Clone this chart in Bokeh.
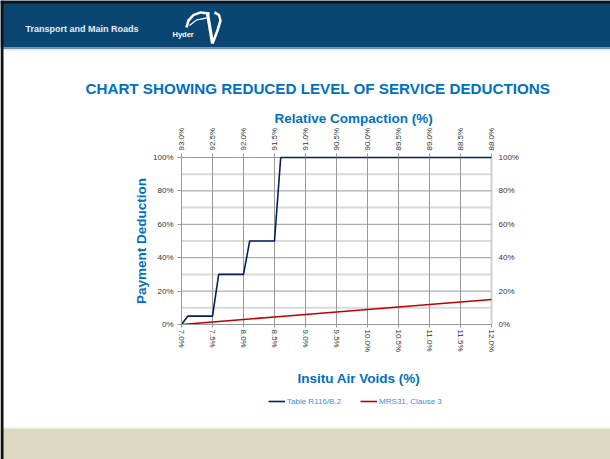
import math
from bokeh.plotting import figure
from bokeh.models import (Range1d, FixedTicker, LinearAxis, Legend, LegendItem,
                          PrintfTickFormatter, BoxAnnotation, Label, PolyAnnotation)
from bokeh.embed import file_html
from bokeh.resources import INLINE

# ---------------- data ----------------
air_voids_r116 = [7.0, 7.1, 7.5, 7.6, 8.0, 8.1, 8.5, 8.6, 12.0]
deduction_r116 = [0, 5, 5, 30, 30, 50, 50, 100, 100]

air_voids_mrs31 = [7.0, 7.5, 8.0, 8.5, 9.0, 9.5, 10.0, 10.5, 11.0, 11.5, 12.0]
deduction_mrs31 = [0.0, 1.5, 3.0, 4.5, 6.0, 7.5, 9.0, 10.5, 12.0, 13.5, 15.0]

air_void_ticks = [7.0, 7.5, 8.0, 8.5, 9.0, 9.5, 10.0, 10.5, 11.0, 11.5, 12.0]
compaction_ticks = [93.0, 92.5, 92.0, 91.5, 91.0, 90.5, 90.0, 89.5, 89.0, 88.5, 88.0]
deduction_ticks = [0, 20, 40, 60, 80, 100]
deduction_minor = [10, 30, 50, 70, 90]

series_names = ["Table R116/B.2", "MRS31, Clause 3"]
chart_title = "CHART SHOWING REDUCED LEVEL OF SERVICE DEDUCTIONS"
x_title = "Insitu Air Voids (%)"
x2_title = "Relative Compaction (%)"
y_title = "Payment Deduction"
header_text = "Transport and Main Roads"
logo_text = "Hyder"

# ---------------- layout / styles ----------------
FONT = "Liberation Sans"
NAVY = "#0B4672"
BLUE_TXT = "#0070C0"
GRID = "#999999"
W, H = 610, 459
CL, CR, CT, CB = 181, 491, 157, 324   # chart area on the canvas (px)

x0, x1 = air_void_ticks[0], air_void_ticks[-1]
y0, y1 = deduction_ticks[0], deduction_ticks[-1]
kx = (x1 - x0) / (CR - CL)
ky = (y1 - y0) / (CB - CT)
c0, c1 = compaction_ticks[0], compaction_ticks[-1]
kc = (c1 - c0) / (CR - CL)

p = figure(width=W, height=H,
           x_range=Range1d(x0 - CL * kx, x1 + (W - CR) * kx),
           y_range=Range1d(y0 - (H - CB) * ky, y1 + CT * ky),
           toolbar_location=None, output_backend="svg", min_border=0,
           x_axis_location=None, y_axis_location=None)
p.grid.visible = False
p.background_fill_color = "white"
p.border_fill_color = "white"
p.outline_line_color = None
p.extra_x_ranges = {"rc": Range1d(c0 - CL * kc, c1 + (W - CR) * kc)}


def sx(x):
    return x


def sy(y):
    return H - y


# ---------------- grid (from tick arrays) ----------------
p.segment(x0=[x0] * len(deduction_minor), x1=[x1] * len(deduction_minor),
          y0=deduction_minor, y1=deduction_minor, line_color="#DADADA", line_width=2)
p.segment(x0=air_void_ticks[:-1], x1=air_void_ticks[:-1],
          y0=[y0] * (len(air_void_ticks) - 1), y1=[y1] * (len(air_void_ticks) - 1),
          line_color=GRID, line_width=1)
p.segment(x0=[x1], x1=[x1], y0=[y0], y1=[y1], line_color="#D0D0D0", line_width=2)
p.segment(x0=[x0] * len(deduction_ticks), x1=[x1] * len(deduction_ticks),
          y0=deduction_ticks, y1=deduction_ticks, line_color=GRID, line_width=1)

# ---------------- series ----------------
r1 = p.line(air_voids_r116, deduction_r116, line_color="#002060", line_width=1.6)
r2 = p.line(air_voids_mrs31, deduction_mrs31, line_color="#C00000", line_width=1.6)


# ---------------- axes ----------------
def style_axis(ax):
    ax.major_label_text_font = FONT
    ax.major_label_text_font_size = "8px"
    ax.major_label_text_color = "#333333"
    ax.axis_line_color = GRID
    ax.major_tick_line_color = GRID
    ax.minor_tick_line_color = None
    ax.major_tick_in = 0


xb = LinearAxis(fixed_location=y0, bounds=(x0, x1), ticker=FixedTicker(ticks=air_void_ticks),
                formatter=PrintfTickFormatter(format="%.1f%%"))
xb.major_label_orientation = "vertical"
style_axis(xb)
xb.major_tick_out = 3
xb.major_label_standoff = 2
p.add_layout(xb, "below")

xt = LinearAxis(x_range_name="rc", fixed_location=y1, bounds=(c1, c0),
                ticker=FixedTicker(ticks=compaction_ticks),
                formatter=PrintfTickFormatter(format="%.1f%%"))
xt.major_label_orientation = "vertical"
style_axis(xt)
xt.axis_line_color = None
xt.major_tick_out = 4
xt.major_label_standoff = 3
p.add_layout(xt, "above")

yl = LinearAxis(fixed_location=x0, bounds=(y0, y1), ticker=FixedTicker(ticks=deduction_ticks),
                formatter=PrintfTickFormatter(format="%d%%"))
style_axis(yl)
yl.major_tick_out = 4
yl.major_label_standoff = 4
p.add_layout(yl, "left")

yr = LinearAxis(fixed_location=x1, bounds=(y0, y1), ticker=FixedTicker(ticks=deduction_ticks),
                formatter=PrintfTickFormatter(format="%d%%"))
style_axis(yr)
yr.axis_line_color = None
yr.major_tick_out = 0
yr.major_label_standoff = 7
p.add_layout(yr, "right")

# ---------------- legend ----------------
legend = Legend(items=[LegendItem(label=series_names[0], renderers=[r1]),
                       LegendItem(label=series_names[1], renderers=[r2])],
                orientation="horizontal", location=(sx(268), sy(406)))
legend.label_text_font = FONT
legend.label_text_font_size = "8px"
legend.label_text_color = "#3A8FD8"
legend.glyph_width = 17
legend.glyph_height = 10
legend.label_standoff = 2
legend.spacing = 19
legend.padding = 0
legend.margin = 0
legend.border_line_color = None
legend.background_fill_alpha = 0
p.add_layout(legend, "center")


# ---------------- header / footer decoration ----------------
def box(l, r, t, b, color):
    p.add_layout(BoxAnnotation(left=sx(l), right=sx(r), top=sy(t), bottom=sy(b),
                               left_units="screen", right_units="screen",
                               top_units="screen", bottom_units="screen",
                               fill_color=color, fill_alpha=1, line_color=None, level="overlay"))


box(0, W, 0, 47, NAVY)
box(0, W, 47, 48.5, "#6F8CA8")
box(0, W, 48.5, 50, "#E3ECF3")
box(0, W, 427, 428.5, "#ECE9DC")
box(0, W, 428.5, H, "#DCD9C3")
box(0, W, 0, 3, "#111111")
box(0, 3, 0, H, "#111111")


def stroke(points, w):
    left, right = [], []
    n = len(points)
    for i in range(n):
        ax, ay = points[max(i - 1, 0)]
        bx, by = points[min(i + 1, n - 1)]
        dx, dy = bx - ax, by - ay
        L = math.hypot(dx, dy) or 1.0
        nx, ny = -dy / L * w / 2, dx / L * w / 2
        px, py = points[i]
        left.append((px + nx, py + ny))
        right.append((px - nx, py - ny))
    poly = left + right[::-1]
    p.add_layout(PolyAnnotation(xs=[sx(x) for x, _ in poly], ys=[sy(y) for _, y in poly],
                                xs_units="screen", ys_units="screen",
                                fill_color="white", fill_alpha=1, line_color=None, level="overlay"))


stroke([(186, 27), (188, 20), (193, 14.5), (200, 12), (209, 13)], 2.6)
stroke([(207, 13), (212, 43)], 3.2)
stroke([(212, 43), (217, 30), (220, 20), (218.5, 14.5), (214, 12)], 2.6)
stroke([(189, 25), (196, 19.5), (206, 17.5)], 1.3)


# ---------------- texts ----------------
def label(x, y, text, size, color, bold=True, align="left", angle=0.0):
    p.add_layout(Label(x=sx(x), y=sy(y), x_units="screen", y_units="screen", text=text,
                       text_font=FONT, text_font_size=size,
                       text_font_style="bold" if bold else "normal",
                       text_color=color, text_baseline="middle", text_align=align,
                       angle=angle, level="overlay"))


label(85, 87.5, chart_title, "15.2px", BLUE_TXT)
label(274, 118, x2_title, "13.5px", BLUE_TXT)
label(297, 378, x_title, "13.5px", BLUE_TXT)
label(141, (CT + CB) / 2, y_title, "13.5px", BLUE_TXT, align="center", angle=math.pi / 2)
label(25, 28, header_text, "9px", "#E8EEF4")
label(172, 33.5, logo_text, "7.5px", "white")

open("out.html", "w").write(file_html(p, INLINE))
